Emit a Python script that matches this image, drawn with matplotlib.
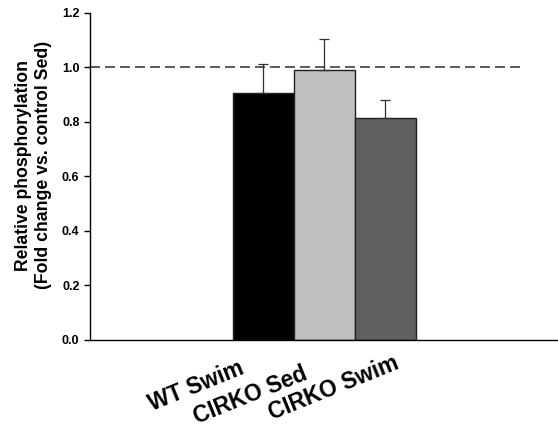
import matplotlib
matplotlib.use("Agg")
import matplotlib.pyplot as plt

plt.rcParams['font.family'] = ['Liberation Sans', 'DejaVu Sans']
plt.rcParams['font.weight'] = 'bold'

# data
groups = ['WT Swim', 'CIRKO Sed', 'CIRKO Swim']
values = [0.905, 0.992, 0.816]
errors = [0.107, 0.114, 0.064]
colors = ['#000000', '#c0c0c0', '#606060']
yticks = [0.0, 0.2, 0.4, 0.6, 0.8, 1.0, 1.2]
# label offsets (points) relative to each bar's base
label_offsets = [(-12.6, -23.8), (-11.2, -28.1), (10.4, -20.2)]

fig = plt.figure(figsize=(5.58, 4.40), dpi=100)
ax = fig.add_axes([0.161, 0.2273, 0.839, 0.7432])

x = list(range(len(groups)))
ax.bar(x, values, width=1.0, color=colors, edgecolor='#202020', linewidth=1.0, zorder=2)
ax.errorbar(x, values, yerr=[[0] * len(errors), errors], fmt='none',
            ecolor='#303030', elinewidth=0.9, capsize=3.6, capthick=0.9, zorder=3)

ax.axhline(1.0, xmin=0, xmax=0.921, color='#404040', linestyle=(0, (6, 3)),
           linewidth=1.2, zorder=1)

ax.set_xlim(-2.84, 4.83)
ax.set_ylim(0, 1.2)
ax.set_yticks(yticks)
ax.set_yticklabels([f'{t:.1f}' for t in yticks], fontsize=9, fontweight='bold')
ax.tick_params(axis='y', direction='out', length=4, width=1)
ax.set_xticks([])

for s in ['top', 'right']:
    ax.spines[s].set_visible(False)
ax.spines['left'].set_linewidth(1)
ax.spines['bottom'].set_linewidth(1)

for i, lab in enumerate(groups):
    ax.annotate(lab, xy=(x[i], 0), xycoords=('data', 'axes fraction'),
                xytext=label_offsets[i], textcoords='offset points',
                rotation=22, ha='right', va='baseline', rotation_mode='anchor',
                fontsize=16.3, fontweight='bold')

ax.set_ylabel('Relative phosphorylation\n(Fold change vs. control Sed)',
              fontsize=12.7, fontweight='bold', labelpad=4)
ax.yaxis.set_label_coords(-0.081, 0.535)

fig.savefig('out.png', dpi=100)
